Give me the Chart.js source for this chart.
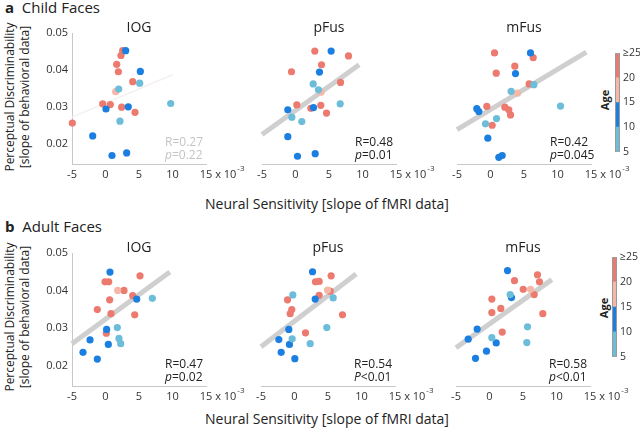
<!DOCTYPE html>
<html>
<head>
<meta charset="utf-8">
<script src="https://cdn.jsdelivr.net/npm/chart.js@4.4.0/dist/chart.umd.min.js"></script>
<style>
body { margin:0; width:640px; height:433px; overflow:hidden; background:#fff; position:relative;
       font-family:"Open Sans", sans-serif; color:#222; }
canvas, .txt { position:absolute; }
.txt { white-space:nowrap; }
.rot { transform:translate(-50%,-50%) rotate(-90deg); text-align:center; }
.ctr { transform:translate(-50%,-50%); }
</style>
</head>
<body>
<div class="txt" style="left:5px;top:-3px;font-size:15px"><b>a</b>&nbsp; Child Faces</div>
<div class="txt" style="left:5px;top:216px;font-size:15px"><b>b</b>&nbsp; Adult Faces</div>

<div class="txt rot" style="left:17px;top:97px;font-size:12px;line-height:15px">Perceptual Discriminability<br>[slope of behavioral data]</div>
<div class="txt rot" style="left:17px;top:317px;font-size:12px;line-height:15px">Perceptual Discriminability<br>[slope of behavioral data]</div>

<div class="txt ctr" style="left:327px;top:203px;font-size:14px">Neural Sensitivity [slope of fMRI data]</div>
<div class="txt ctr" style="left:327px;top:418px;font-size:14px">Neural Sensitivity [slope of fMRI data]</div>

<div class="txt rot" style="left:604px;top:100px;font-size:11px;font-weight:bold">Age</div>
<div class="txt rot" style="left:603px;top:308px;font-size:11px;font-weight:bold">Age</div>

<canvas id="childIOG" width="224" height="171" style="left:27px;top:18px"></canvas>
<canvas id="childPFus" width="199" height="171" style="left:242px;top:18px"></canvas>
<canvas id="childMFus" width="199" height="171" style="left:437px;top:18px"></canvas>
<canvas id="adultIOG" width="224" height="173" style="left:27px;top:238px"></canvas>
<canvas id="adultPFus" width="199" height="173" style="left:241px;top:238px"></canvas>
<canvas id="adultMFus" width="199" height="173" style="left:436px;top:238px"></canvas>
<canvas id="barTop" width="30" height="117" style="left:615px;top:44px"></canvas>
<canvas id="barBottom" width="30" height="118" style="left:612px;top:248px"></canvas>

<script>
var xTicks = [-5, 0, 5, 10, 15];
var yTicks = [0.02, 0.03, 0.04, 0.05];
var ageEdges = [5, 10, 15, 20, 25];
var ageColors = ['#6cbdd9', '#1a7fe0', '#f5b7a7', '#ec7a6e'];
// age group of each subject: 0 = 5-10, 1 = 10-15, 2 = 15-20, 3 = 20-25+

// a: child faces
var childIOG_x = [2.56, 2.31, 1.67, 1.92, 4.06, -0.42, 0.72, 2.41, 4.40, -4.95, 1.52, 3.01, 5.2, 0.07, 3.4, -1.91, 0.97, 3.16, 1.97, 5.1, 9.73, 2.16];
var childIOG_y = [0.0452, 0.0439, 0.0415, 0.0395, 0.0368, 0.0308, 0.0306, 0.0299, 0.0285, 0.0256, 0.0341, 0.0452, 0.0396, 0.0294, 0.0300, 0.0221, 0.0168, 0.0175, 0.0348, 0.0364, 0.0309, 0.0261];
var childIOG_g = [3, 3, 3, 3, 3, 3, 3, 3, 3, 3, 2, 1, 1, 1, 1, 1, 1, 1, 0, 0, 0, 0];
var childIOG_fit = [[-5, 0.0272], [10, 0.0387]];

var childPFus_x = [2.88, 7.91, 3.88, -0.6, 6.72, 0.2, 2.29, 3.78, 4.63, 3.83, 5.32, 3.58, 2.69, -1.15, -1.15, 0.3, 2.94, 2.64, 3.43, 6.67, -0.55, 0.94];
var childPFus_y = [0.0451, 0.0438, 0.0414, 0.0395, 0.0366, 0.0305, 0.0296, 0.0304, 0.0283, 0.0340, 0.0451, 0.0394, 0.0298, 0.0292, 0.0219, 0.0166, 0.0173, 0.0362, 0.0346, 0.0308, 0.0272, 0.0260];
var childPFus_g = [3, 3, 3, 3, 3, 3, 3, 3, 3, 2, 1, 1, 1, 1, 1, 1, 1, 0, 0, 0, 0, 0];
var childPFus_fit = [[-5, 0.0225], [9.5, 0.0414]];

var childMFus_x = [0.6, 6.37, 3.63, 0.85, 5.77, -0.55, 2.14, 2.73, 2.99, 0.25, 4.03, 5.97, 3.73, -2.04, -1.74, -0.4, 1.24, 1.74, 3.08, 6.47, 10.45, 0.9, -0.75];
var childMFus_y = [0.0446, 0.0433, 0.0410, 0.0391, 0.0362, 0.0301, 0.0299, 0.0292, 0.0278, 0.0250, 0.0337, 0.0446, 0.0390, 0.0295, 0.0287, 0.0215, 0.0163, 0.0168, 0.0342, 0.0360, 0.0302, 0.0268, 0.0254];
var childMFus_g = [3, 3, 3, 3, 3, 3, 3, 3, 3, 3, 2, 1, 1, 1, 1, 1, 1, 1, 0, 0, 0, 0, 0];
var childMFus_fit = [[-5, 0.0238], [14.3, 0.0448]];

// b: adult faces
var adultIOG_x = [5.15, -0.07, 0.48, 2.76, 4.06, 0.62, -1.22, 0.82, 4.36, 0.12, 1.82, 0.67, 4.66, 0.17, -2.31, 0.42, -3.36, -1.22, 6.99, 1.76, 2.01, 2.27];
var adultIOG_y = [0.0439, 0.0423, 0.0423, 0.0400, 0.0386, 0.0375, 0.0349, 0.0338, 0.0335, 0.0286, 0.0400, 0.0449, 0.0377, 0.0296, 0.0268, 0.0256, 0.0235, 0.0217, 0.0379, 0.0301, 0.0272, 0.0258];
var adultIOG_g = [3, 3, 3, 3, 3, 3, 3, 3, 3, 3, 2, 1, 1, 1, 1, 1, 1, 1, 0, 0, 0, 0];
var adultIOG_fit = [[-5, 0.0258], [9.6, 0.0449]];

var adultPFus_x = [5.47, 3.13, 3.68, 3.68, 5.32, -1.04, -0.4, -0.64, 7.16, 1.64, 4.93, 2.69, 3.09, -0.85, -2.34, -0.75, -1.99, 0.05, -0.25, 5.77, 4.82, -0.35, 2.34];
var adultPFus_y = [0.0439, 0.0423, 0.0424, 0.0387, 0.0398, 0.0375, 0.0349, 0.0338, 0.0335, 0.0287, 0.0401, 0.0450, 0.0377, 0.0296, 0.0269, 0.0256, 0.0235, 0.0218, 0.0388, 0.0380, 0.0301, 0.0271, 0.0258];
var adultPFus_g = [3, 3, 3, 3, 3, 3, 3, 3, 3, 3, 2, 1, 1, 1, 1, 1, 1, 1, 0, 0, 0, 0, 0];
var adultPFus_fit = [[-5, 0.0250], [9.2, 0.0444]];

var adultMFus_x = [7.16, 7.46, 3.73, 5.03, 6.67, 0.35, 1.69, 0.35, 7.96, 1.9, 6.12, 2.69, 3.28, -1.84, -3.18, 1.0, -0.45, -2.09, 3.09, 5.67, 0.35, 5.57];
var adultMFus_y = [0.0442, 0.0423, 0.0426, 0.0403, 0.0389, 0.0377, 0.0352, 0.0341, 0.0338, 0.0289, 0.0403, 0.0453, 0.0381, 0.0297, 0.0270, 0.0260, 0.0238, 0.0219, 0.0389, 0.0303, 0.0274, 0.0261];
var adultMFus_g = [3, 3, 3, 3, 3, 3, 3, 3, 3, 3, 2, 1, 1, 1, 1, 1, 1, 1, 0, 0, 0, 0];
var adultMFus_fit = [[-5, 0.0247], [9.3, 0.0429]];

// draws panel title, R / p values and the x10^-3 exponent
var panelText = {
    id: 'panelText',
    afterDraw: function(chart, args, opts) {
        if (!opts.title) return;
        var ctx = chart.ctx;
        var a = chart.chartArea;
        ctx.save();
        ctx.textBaseline = 'middle';
        ctx.fillStyle = '#222';
        ctx.font = '14px "Open Sans"';
        ctx.textAlign = 'center';
        ctx.fillText(opts.title, (a.left + a.right) / 2, a.top - 5);

        ctx.textAlign = 'left';
        ctx.fillStyle = opts.color;
        var sx = a.left + 93;
        ctx.font = '12px "Open Sans"';
        ctx.fillText(opts.r, sx, a.bottom - 21);
        ctx.font = 'italic 12px "Open Sans"';
        ctx.fillText(opts.pSym, sx, a.bottom - 8);
        var w = ctx.measureText(opts.pSym).width;
        ctx.font = '12px "Open Sans"';
        ctx.fillText(opts.pVal, sx + w, a.bottom - 8);

        var xs = chart.scales.x;
        var px = xs.getPixelForValue(15);
        var py = a.bottom + 11;
        ctx.fillStyle = '#333';
        ctx.font = '11px "Open Sans"';
        var lw = ctx.measureText('15').width;
        var s = ' x 10';
        ctx.fillText(s, px + lw / 2, py);
        var sw = ctx.measureText(s).width;
        ctx.font = '8px "Open Sans"';
        ctx.fillText('-3', px + lw / 2 + sw + 1, py - 6);
        ctx.restore();
    }
};

// gray frame round the colorbar
var barFrame = {
    id: 'barFrame',
    afterDraw: function(chart, args, opts) {
        if (!opts.on) return;
        var a = chart.chartArea;
        var ctx = chart.ctx;
        ctx.save();
        ctx.strokeStyle = '#9a9a9a';
        ctx.lineWidth = 1;
        ctx.strokeRect(a.left + 0.5, a.top + 0.5, a.right - a.left - 1, a.bottom - a.top - 1);
        ctx.restore();
    }
};

Chart.register(panelText, barFrame);

function makePanel(id, xs, ys, gs, fit, showY, stats, fitStyle) {
    var pts = xs.map(function(x, i) { return {x: x, y: ys[i]}; });
    var cols = gs.map(function(g) { return ageColors[g]; });
    var ctx = document.getElementById(id).getContext('2d');
    return new Chart(ctx, {
        type: 'scatter',
        data: {
            datasets: [{
                data: pts,
                pointBackgroundColor: cols,
                pointBorderWidth: 0,
                pointRadius: 3.6,
                clip: false,
                order: 1
            }, {
                type: 'line',
                data: fit.map(function(p) { return {x: p[0], y: p[1]}; }),
                borderColor: fitStyle.color,
                borderWidth: fitStyle.width,
                pointRadius: 0,
                fill: false,
                clip: false,
                order: 2
            }]
        },
        options: {
            responsive: false,
            animation: false,
            layout: { padding: { left: showY ? 0 : 20, right: 45, top: 15, bottom: 0 } },
            plugins: {
                legend: { display: false },
                tooltip: { enabled: false },
                panelText: stats
            },
            scales: {
                x: {
                    type: 'linear',
                    min: -5,
                    max: 15,
                    afterBuildTicks: function(s) { s.ticks = xTicks.map(function(v) { return {value: v}; }); },
                    afterFit: function(s) { s.height = 25; },
                    grid: { display: false, drawTicks: false },
                    border: { color: '#c8c8c8' },
                    ticks: { padding: 4, color: '#333', font: { family: 'Open Sans', size: 11 } }
                },
                y: {
                    display: showY,
                    min: 0.0145,
                    max: 0.05,
                    afterBuildTicks: function(s) { s.ticks = yTicks.map(function(v) { return {value: v}; }); },
                    afterFit: function(s) { s.width = showY ? 45 : 0; },
                    grid: { display: false, drawTicks: false },
                    border: { color: '#c8c8c8' },
                    ticks: {
                        padding: 4, color: '#333', font: { family: 'Open Sans', size: 11 },
                        callback: function(v) { return v.toFixed(2); }
                    }
                }
            }
        }
    });
}

var thickFit = { color: '#cfcfcf', width: 5 };
var faintFit = { color: '#f4f0ee', width: 1.5 };

makePanel('childIOG', childIOG_x, childIOG_y, childIOG_g, childIOG_fit, true,
    { title: 'IOG', r: 'R=0.27', pSym: 'p', pVal: '=0.22', color: '#c4c4c4' }, faintFit);
makePanel('childPFus', childPFus_x, childPFus_y, childPFus_g, childPFus_fit, false,
    { title: 'pFus', r: 'R=0.48', pSym: 'p', pVal: '=0.01', color: '#222' }, thickFit);
makePanel('childMFus', childMFus_x, childMFus_y, childMFus_g, childMFus_fit, false,
    { title: 'mFus', r: 'R=0.42', pSym: 'p', pVal: '=0.045', color: '#222' }, thickFit);
makePanel('adultIOG', adultIOG_x, adultIOG_y, adultIOG_g, adultIOG_fit, true,
    { title: 'IOG', r: 'R=0.47', pSym: 'p', pVal: '=0.02', color: '#222' }, thickFit);
makePanel('adultPFus', adultPFus_x, adultPFus_y, adultPFus_g, adultPFus_fit, false,
    { title: 'pFus', r: 'R=0.54', pSym: 'P', pVal: '<0.01', color: '#222' }, thickFit);
makePanel('adultMFus', adultMFus_x, adultMFus_y, adultMFus_g, adultMFus_fit, false,
    { title: 'mFus', r: 'R=0.58', pSym: 'p', pVal: '<0.01', color: '#222' }, thickFit);

// age colorbars
function makeColorbar(id) {
    var sets = ageColors.map(function(c, i) {
        return {
            data: [[ageEdges[i], ageEdges[i + 1]]],
            backgroundColor: c,
            borderWidth: 0,
            barPercentage: 1,
            categoryPercentage: 1
        };
    });
    return new Chart(document.getElementById(id).getContext('2d'), {
        type: 'bar',
        data: { labels: [''], datasets: sets },
        options: {
            responsive: false,
            animation: false,
            layout: { padding: { left: 0, right: 0, top: 8, bottom: 8 } },
            plugins: { legend: { display: false }, tooltip: { enabled: false }, barFrame: { on: true } },
            scales: {
                x: { display: false, stacked: true },
                y: {
                    position: 'right',
                    min: 5,
                    max: 25,
                    afterBuildTicks: function(s) { s.ticks = ageEdges.map(function(v) { return {value: v}; }); },
                    afterFit: function(s) { s.width = 25; },
                    grid: { display: false, drawTicks: false },
                    border: { display: false },
                    ticks: {
                        padding: 3, color: '#333', font: { family: 'Open Sans', size: 10.5 },
                        callback: function(v) { return v === 25 ? '≥25' : v; }
                    }
                }
            }
        }
    });
}

makeColorbar('barTop');
makeColorbar('barBottom');
</script>
</body>
</html>
